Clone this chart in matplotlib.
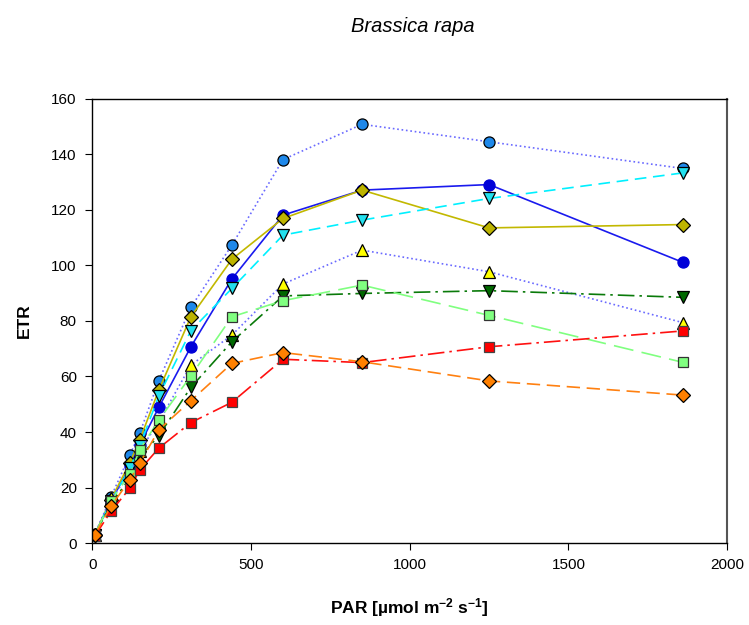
import matplotlib
matplotlib.use('Agg')
import matplotlib.pyplot as plt
from matplotlib import rcParams

rcParams['font.family'] = ['Liberation Sans', 'DejaVu Sans']
rcParams['mathtext.fontset'] = 'custom'
rcParams['mathtext.rm'] = 'Liberation Sans:bold'
rcParams['mathtext.bf'] = 'Liberation Sans:bold'
rcParams['mathtext.default'] = 'bf'

# PAR steps of the light curve
par = [8, 59, 119, 150, 210, 311, 440, 601, 850, 1250, 1860]

# ETR curves
etr_lightblue = [3, 16.5, 31.8, 39.6, 58.5, 84.9, 107.3, 138.1, 150.8, 144.5, 134.9]
etr_blue = [3, 15, 27.6, 35.4, 48.9, 70.7, 95.1, 118.1, 127.1, 129.1, 101.1]
etr_olive = [3, 15.6, 29, 37.2, 55.1, 81.5, 102.2, 116.9, 127.1, 113.5, 114.7]
etr_cyan = [3, 15, 27, 35, 53, 76.5, 91.7, 110.9, 116.3, 124.1, 133.3]
etr_yellow = [3, 16.2, 24.6, 33.3, 43.6, 64.1, 74.9, 93.3, 105.5, 97.7, 79.4]
etr_darkgreen = [3, 14, 23.5, 31, 38.7, 56.1, 72.5, 89, 89.9, 90.9, 88.5]
etr_lightgreen = [3, 15, 25, 33.6, 44.3, 60.2, 81.5, 87.3, 92.9, 82, 65.1]
etr_red = [2.5, 11.4, 19.8, 26.4, 34.2, 43.4, 50.7, 66.2, 65, 70.7, 76.4]
etr_orange = [3, 13.2, 22.8, 28.8, 40.8, 51.3, 64.7, 68.6, 65.3, 58.4, 53.3]

fig = plt.figure(figsize=(7.49, 6.25), dpi=100)
ax = fig.add_axes([0.123, 0.131, 0.848, 0.711])

ms = 8
ax.plot(par, etr_lightblue, ':', color='#6a6aff', lw=1.2, marker='o', ms=ms,
        mfc='#1e88ea', mec='black', mew=0.9)
ax.plot(par, etr_blue, '-', color='#1a1aee', lw=1.2, marker='o', ms=ms,
        mfc='#0000d8', mec='#0000d8', mew=0.9)
ax.plot(par, etr_olive, '-', color='#c2b800', lw=1.2, marker='D', ms=ms - 0.8,
        mfc='#bdb400', mec='black', mew=0.9)
ax.plot(par, etr_cyan, color='#00f0ff', lw=1.2, dashes=(7, 4), marker='v', ms=ms,
        mfc='#22e0ee', mec='black', mew=0.9)
ax.plot(par, etr_yellow, ':', color='#6a6aff', lw=1.2, marker='^', ms=ms,
        mfc='#ffff00', mec='black', mew=0.9)
ax.plot(par, etr_darkgreen, color='#0a7a0a', lw=1.2, dashes=(10, 3, 1.5, 3), marker='v', ms=ms,
        mfc='#006800', mec='black', mew=0.9)
ax.plot(par, etr_lightgreen, color='#80ff80', lw=1.2, dashes=(12, 5), marker='s', ms=ms - 0.8,
        mfc='#80ff80', mec='#333333', mew=0.9)
ax.plot(par, etr_red, color='#ff1010', lw=1.2, dashes=(10, 3, 1.5, 3), marker='s', ms=ms - 0.8,
        mfc='#ff0000', mec='#444444', mew=0.9)
ax.plot(par, etr_orange, color='#ff8010', lw=1.2, dashes=(8, 4), marker='D', ms=ms - 0.8,
        mfc='#ff8000', mec='black', mew=0.9)

ax.set_xlim(0, 2000)
ax.set_ylim(0, 160)
ax.set_xticks([0, 500, 1000, 1500, 2000])
ax.set_yticks(range(0, 161, 20))
ax.tick_params(direction='out', length=5, labelsize=11, top=False, right=False, pad=6)
for sp in ax.spines.values():
    sp.set_linewidth(1.0)
ax.spines['right'].set_color('#555555')
ax.spines['right'].set_linewidth(1.5)

ax.set_xlabel('PAR [µmol m$^{−2}$ s$^{−1}$]', fontsize=12.5, fontweight='bold', labelpad=17)
ax.set_ylabel('ETR', fontsize=12.5, fontweight='bold', labelpad=14)
fig.text(0.551, 0.958, 'Brassica rapa', fontsize=14.5, style='italic', ha='center', va='center')

fig.savefig('out.png', dpi=100)
